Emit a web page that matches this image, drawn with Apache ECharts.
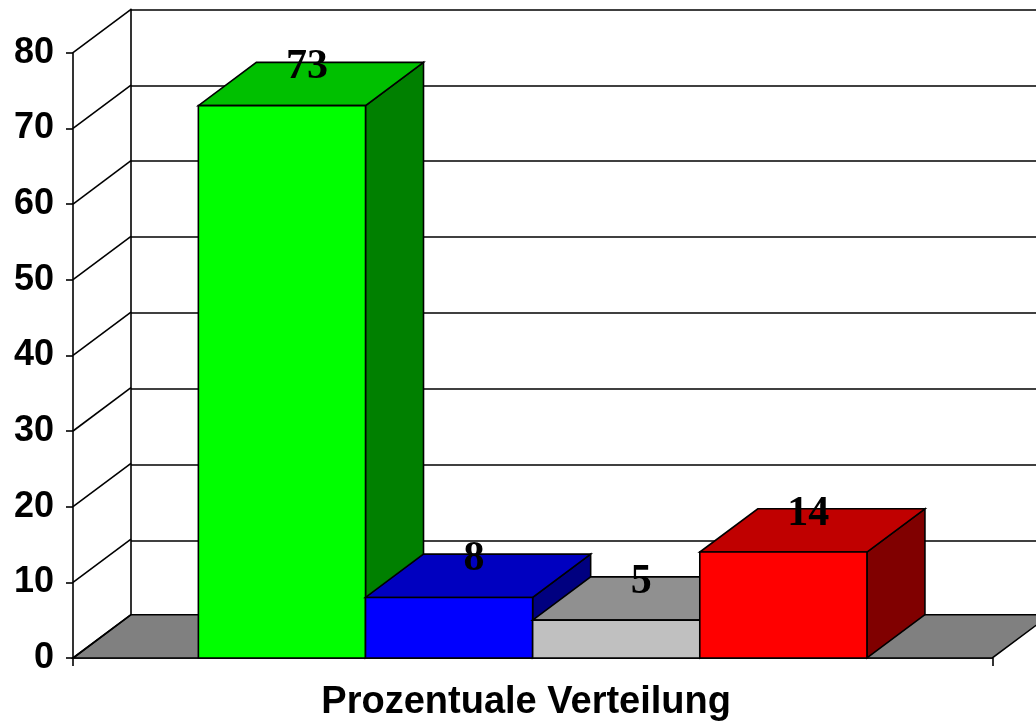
<!DOCTYPE html>
<html>
<head>
<meta charset="utf-8">
<script src="https://cdn.jsdelivr.net/npm/echarts@6/dist/echarts.min.js"></script>
<style>
  html, body { margin: 0; padding: 0; background: #fff; }
  #chart { width: 1036px; height: 722px; }
</style>
</head>
<body>
<div id="chart"></div>
<script>
// Daten
const categories = ['Prozentuale Verteilung'];
const values = [73, 8, 5, 14];
const yTicks = [0, 10, 20, 30, 40, 50, 60, 70, 80];

// Farben je Saeule: Vorderseite, Deckel, rechte Seite
const frontColors = ['#00ff00', '#0000ff', '#c0c0c0', '#ff0000'];
const topColors = ['#00c000', '#0000c0', '#909090', '#c00000'];
const sideColors = ['#008000', '#000080', '#808080', '#800000'];

// 3D-Tiefe in Pixel
const DX = 58;
const DY = -43.3;
const LW = 1.6;
const edge = { stroke: '#000', lineWidth: LW, lineJoin: 'miter' };

const chart = echarts.init(document.getElementById('chart'));

function renderFloor(params, api) {
  const cs = params.coordSys;
  const y0 = api.coord([0, 0])[1];
  const x0 = cs.x, x1 = cs.x + cs.width;
  return {
    type: 'polygon',
    shape: { points: [[x0, y0], [x1, y0], [x1 + DX, y0 + DY], [x0 + DX, y0 + DY]] },
    style: Object.assign({ fill: '#808080' }, edge)
  };
}

function renderWall(params, api) {
  const cs = params.coordSys;
  const y = api.coord([0, api.value(1)])[1];
  return {
    type: 'line',
    shape: { x1: cs.x, y1: y, x2: cs.x + DX, y2: y + DY },
    style: { stroke: '#000', lineWidth: LW }
  };
}

function renderBar(params, api) {
  const i = api.value(2);
  const cs = params.coordSys;
  const barW = cs.width / (values.length + 1.5);
  const x0 = cs.x + cs.width / 2 - barW * values.length / 2 + i * barW;
  const x1 = x0 + barW;
  const yb = api.coord([0, 0])[1];
  const yt = api.coord([0, api.value(1)])[1];
  return {
    type: 'group',
    children: [
      {
        type: 'polygon',
        shape: { points: [[x1, yt], [x1 + DX, yt + DY], [x1 + DX, yb + DY], [x1, yb]] },
        style: Object.assign({ fill: sideColors[i] }, edge)
      },
      {
        type: 'polygon',
        shape: { points: [[x0, yt], [x1, yt], [x1 + DX, yt + DY], [x0 + DX, yt + DY]] },
        style: Object.assign({ fill: topColors[i] }, edge)
      },
      {
        type: 'rect',
        shape: { x: x0, y: yt, width: barW, height: yb - yt },
        style: Object.assign({ fill: frontColors[i] }, edge)
      },
      {
        type: 'text',
        style: {
          text: String(api.value(1)),
          x: (x0 + x1) / 2 + 25,
          y: yt + DY + 5,
          align: 'center',
          verticalAlign: 'middle',
          fill: '#000',
          font: 'bold 42px "Liberation Serif", "Times New Roman", serif'
        }
      }
    ]
  };
}

chart.setOption({
  animation: false,
  backgroundColor: '#fff',
  grid: [
    { left: 73, top: 52.7, width: 919.3, height: 607.3 },
    { left: 73 + DX, top: 52.7 + DY, width: 919.3, height: 607.3 }
  ],
  xAxis: [
    {
      type: 'category',
      gridIndex: 0,
      data: categories,
      axisLine: { lineStyle: { color: '#000', width: LW } },
      axisTick: { show: true, length: 8, lineStyle: { color: '#000', width: LW } },
      axisLabel: {
        margin: 26,
        color: '#000',
        fontFamily: '"Liberation Sans", Arial, sans-serif',
        fontWeight: 'bold',
        fontSize: 38,
        padding: [0, 13, 0, 0]
      }
    },
    { type: 'category', gridIndex: 1, data: categories, show: false }
  ],
  yAxis: [
    {
      type: 'value',
      gridIndex: 0,
      min: 0,
      max: 80,
      interval: 10,
      axisLine: { show: true, lineStyle: { color: '#000', width: LW } },
      axisTick: { show: true, length: 7, lineStyle: { color: '#000', width: LW } },
      splitLine: { show: false },
      axisLabel: {
        margin: 19,
        color: '#000',
        fontFamily: '"Liberation Sans", Arial, sans-serif',
        fontWeight: 'bold',
        fontSize: 36
      }
    },
    {
      type: 'value',
      gridIndex: 1,
      min: 0,
      max: 80,
      interval: 10,
      axisLine: { show: true, lineStyle: { color: '#000', width: LW } },
      axisTick: { show: false },
      axisLabel: { show: false },
      splitLine: { show: true, lineStyle: { color: '#000', width: LW } }
    }
  ],
  series: [
    {
      type: 'custom',
      xAxisIndex: 0,
      yAxisIndex: 0,
      renderItem: renderFloor,
      data: [[0, 0]],
      silent: true
    },
    {
      type: 'custom',
      xAxisIndex: 0,
      yAxisIndex: 0,
      renderItem: renderWall,
      data: yTicks.map(t => [0, t]),
      silent: true
    },
    {
      type: 'custom',
      xAxisIndex: 0,
      yAxisIndex: 0,
      renderItem: renderBar,
      encode: { x: 0, y: 1 },
      data: values.map((v, i) => [0, v, i])
    }
  ]
});
</script>
</body>
</html>
